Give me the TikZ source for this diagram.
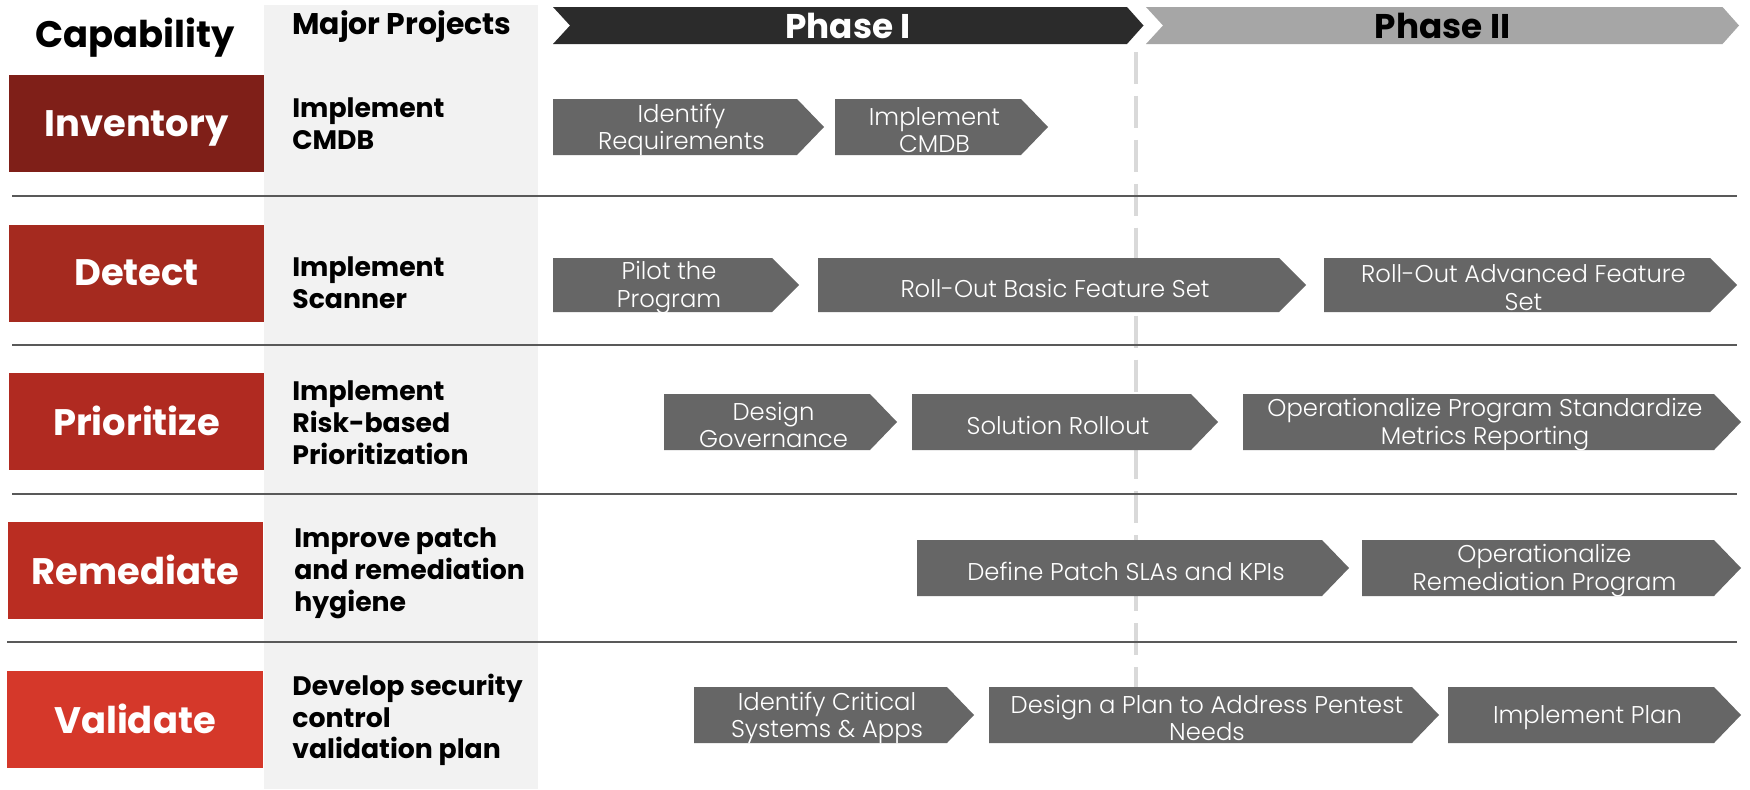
\documentclass[tikz,border=0pt]{standalone}
\usepackage{fontspec}
\setmainfont{Poppins}
\newfontfamily\lightfont{Poppins Light}

\definecolor{capinv}{HTML}{7F1F18}
\definecolor{capdet}{HTML}{A52A1F}
\definecolor{cappri}{HTML}{B02A21}
\definecolor{caprem}{HTML}{BA2D22}
\definecolor{capval}{HTML}{D5382A}
\definecolor{colgray}{HTML}{F2F2F2}
\definecolor{chevgray}{HTML}{666666}
\definecolor{phaseone}{HTML}{2B2B2B}
\definecolor{phasetwo}{HTML}{A6A6A6}
\definecolor{sepgray}{HTML}{595959}
\definecolor{dashgray}{HTML}{D9D9D9}

\begin{document}
\begin{tikzpicture}[
    x=0.2mm, y=-0.2mm,
    chev/.style={fill=chevgray},
    chevtext/.style={text=white, align=center, inner sep=0pt, font=\lightfont\fontsize{13.8}{15.8}\selectfont},
    capbox/.style={text=white, inner sep=0pt, text depth=0pt, minimum width=51mm, minimum height=19.4mm, font=\bfseries\fontsize{21}{25}\selectfont},
    projtext/.style={anchor=west, align=left, inner sep=0pt, font=\bfseries\fontsize{15.2}{18.1}\selectfont},
    phasetext/.style={inner sep=0pt, font=\bfseries\fontsize{19.5}{23}\selectfont},
    sepline/.style={draw=sepgray, line width=1.1pt},
]
    \useasboundingbox[fill=white] (0,0) rectangle (1750,789);

    % Major projects column
    \fill[colgray] (264,5) rectangle (538,789);

    % Column headers
    \node[inner sep=0pt, text depth=0pt, font=\bfseries\fontsize{21}{25}\selectfont] (caphead) at (135,33) {Capability};
    \node[projtext, font=\bfseries\fontsize{17}{20}\selectfont] (projhead) at (292,27) {Major Projects};

    % Phase banners
    \fill[phaseone] (553,7) -- (1127,7) -- (1143.5,25.5) -- (1127,44) -- (553,44) -- (570,25.5) -- cycle;
    \node[phasetext, text=white] (phaseI) at (848,26) {Phase I};
    \fill[phasetwo] (1146,7) -- (1722.5,7) -- (1739,25.5) -- (1722.5,44) -- (1146,44) -- (1163,25.5) -- cycle;
    \node[phasetext, text=black] (phaseII) at (1442.5,26) {Phase II};

    % Phase boundary (dashed)
    \draw[dashgray, line width=2.2pt, dash pattern=on 18.2pt off 6.8pt] (1136,52) -- (1136,743);

    % Capability boxes
    \node[capbox, fill=capinv] (inventory)  at (136.5,123.5) {Inventory};
    \node[capbox, fill=capdet] (detect)     at (136.5,273)   {Detect};
    \node[capbox, fill=cappri] (prioritize) at (136.5,421)   {Prioritize};
    \node[capbox, fill=caprem] (remediate)  at (135.5,570)   {Remediate};
    \node[capbox, fill=capval] (validate)   at (135,719)     {Validate};

    % Major projects
    \node[projtext] (pinventory)  at (292,124) {Implement\\CMDB};
    \node[projtext] (pdetect)     at (292,283) {Implement\\Scanner};
    \node[projtext] (pprioritize) at (292,423) {Implement\\Risk-based\\Prioritization};
    \node[projtext] (premediate)  at (294,573) {Improve patch\\and remediation\\hygiene};
    \node[projtext] (pvalidate)   at (292,720) {Develop security\\control\\validation plan};

    % Separators between capability rows
    \draw[sepline] (12,196) -- (1737,196);
    \draw[sepline] (12,345) -- (1737,345);
    \draw[sepline] (12,494) -- (1737,494);
    \draw[sepline] (7,642) -- (1737,642);

    % Row: Inventory
    \foreach \xl/\xr/\nm/\txt in {553/824/idreq/{Identify\\Requirements}, 835/1048/impcmdb/{Implement\\CMDB}}{
      \fill[chev] (\xl,99) -- (\xr-27,99) -- (\xr,127) -- (\xr-27,155) -- (\xl,155) -- cycle;
      \node[chevtext] (\nm) at ({(\xl+\xr)/2-7},130) {\txt};
    }

    % Row: Detect
    \foreach \xl/\xr/\nm/\txt in {553/799/pilot/{Pilot the\\Program}, 818/1306/rollbasic/{Roll-Out Basic Feature Set}, 1324/1737/rolladv/{Roll-Out Advanced Feature\\Set}}{
      \fill[chev] (\xl,258) -- (\xr-27,258) -- (\xr,285) -- (\xr-27,312) -- (\xl,312) -- cycle;
      \node[chevtext] (\nm) at ({(\xl+\xr)/2-7},288) {\txt};
    }

    % Row: Prioritize
    \foreach \xl/\xr/\nm/\txt in {664/897/desgov/{Design\\Governance}, 912/1218/solroll/{Solution Rollout}, 1243/1741/opprog/{Operationalize Program Standardize\\Metrics Reporting}}{
      \fill[chev] (\xl,394) -- (\xr-27,394) -- (\xr,422) -- (\xr-27,450) -- (\xl,450) -- cycle;
      \node[chevtext] (\nm) at ({(\xl+\xr)/2-7},425) {\txt};
    }

    % Row: Remediate
    \foreach \xl/\xr/\nm/\txt in {917/1349/defpatch/{Define Patch SLAs and KPIs}, 1362/1741/oprem/{Operationalize\\Remediation Program}}{
      \fill[chev] (\xl,540) -- (\xr-27,540) -- (\xr,568) -- (\xr-27,596) -- (\xl,596) -- cycle;
      \node[chevtext] (\nm) at ({(\xl+\xr)/2-7},571) {\txt};
    }

    % Row: Validate
    \foreach \xl/\xr/\nm/\txt in {694/974/idcrit/{Identify Critical\\Systems \& Apps}, 989/1439/desplan/{Design a Plan to Address Pentest\\Needs}, 1448/1741/impplan/{Implement Plan}}{
      \fill[chev] (\xl,687) -- (\xr-27,687) -- (\xr,715) -- (\xr-27,743) -- (\xl,743) -- cycle;
      \node[chevtext] (\nm) at ({(\xl+\xr)/2-7},718) {\txt};
    }
\end{tikzpicture}
\end{document}
